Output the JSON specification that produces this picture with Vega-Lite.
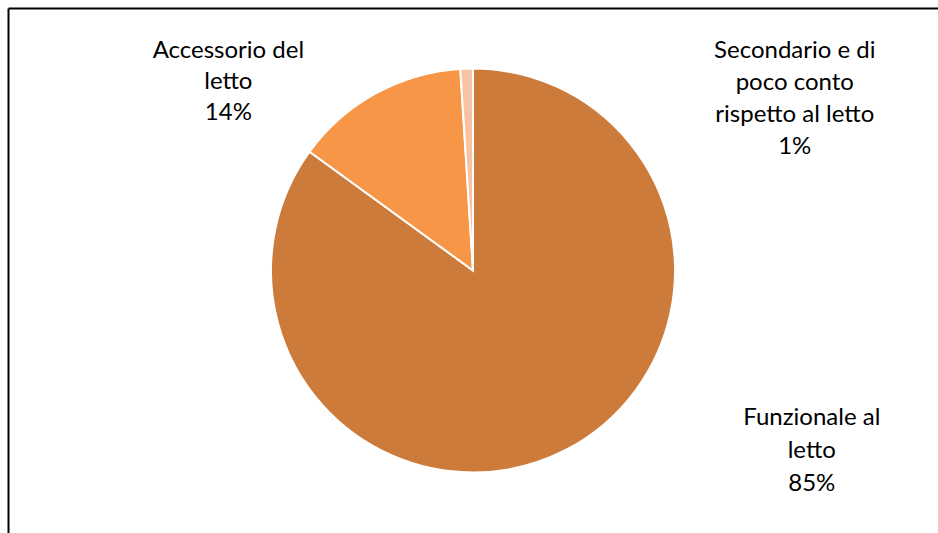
{
  "$schema": "https://vega.github.io/schema/vega-lite/v6.json",
  "autosize": "none",
  "width": 930,
  "height": 525,
  "padding": {"left": 8, "top": 8, "right": 0, "bottom": 0},
  "background": "white",
  "config": {"view": {"stroke": null}},
  "data": {"values": [
    {"category": "Funzionale al letto", "pct": 85, "label": "Funzionale al\nletto\n85%"},
    {"category": "Accessorio del letto", "pct": 14, "label": "Accessorio del\nletto\n14%"},
    {"category": "Secondario e di poco conto rispetto al letto", "pct": 1, "label": "Secondario e di\npoco conto\nrispetto al letto\n1%"}
  ]},
  "layer": [
    {
      "mark": {"type": "point", "opacity": 0},
      "encoding": {
        "x": {"field": "pct", "type": "quantitative", "axis": {"orient": "top", "domain": true, "domainColor": "#000", "domainWidth": 2, "ticks": false, "labels": false, "grid": false, "title": null}},
        "y": {"field": "pct", "type": "quantitative", "axis": {"orient": "left", "domain": true, "domainColor": "#000", "domainWidth": 2, "ticks": false, "labels": false, "grid": false, "title": null}}
      }
    },
    {
      "mark": {"type": "arc", "radius": 202, "stroke": "white", "strokeWidth": 2},
      "encoding": {
        "theta": {"field": "pct", "type": "quantitative", "stack": true},
        "order": {"field": "pct", "sort": "descending"},
        "color": {"field": "category", "type": "nominal", "legend": null,
          "scale": {"domain": ["Funzionale al letto", "Accessorio del letto", "Secondario e di poco conto rispetto al letto"], "range": ["#CD7B3A", "#F79646", "#F9C2A3"]}}
      }
    },
    {
      "mark": {"type": "text", "radius": 200, "dx": 248, "dy": -31, "align": "center", "baseline": "middle", "lineBreak": "\n", "lineHeight": 33, "font": "Lato", "fontSize": 24, "color": "#000"},
      "encoding": {
        "theta": {"field": "pct", "type": "quantitative", "stack": true},
        "order": {"field": "pct", "sort": "descending"},
        "text": {"condition": {"test": "datum.category === 'Funzionale al letto'", "field": "label"}, "value": ""}
      }
    },
    {
      "mark": {"type": "text", "radius": 240, "dx": -129, "dy": -9, "align": "center", "baseline": "middle", "lineBreak": "\n", "lineHeight": 31, "font": "Lato", "fontSize": 24, "color": "#000"},
      "encoding": {
        "theta": {"field": "pct", "type": "quantitative", "stack": true},
        "order": {"field": "pct", "sort": "descending"},
        "text": {"condition": {"test": "datum.category === 'Accessorio del letto'", "field": "label"}, "value": ""}
      }
    },
    {
      "mark": {"type": "text", "radius": 230, "dx": 329, "dy": 10, "align": "center", "baseline": "middle", "lineBreak": "\n", "lineHeight": 32, "font": "Lato", "fontSize": 24, "color": "#000"},
      "encoding": {
        "theta": {"field": "pct", "type": "quantitative", "stack": true},
        "order": {"field": "pct", "sort": "descending"},
        "text": {"condition": {"test": "datum.category === 'Secondario e di poco conto rispetto al letto'", "field": "label"}, "value": ""}
      }
    }
  ]
}
